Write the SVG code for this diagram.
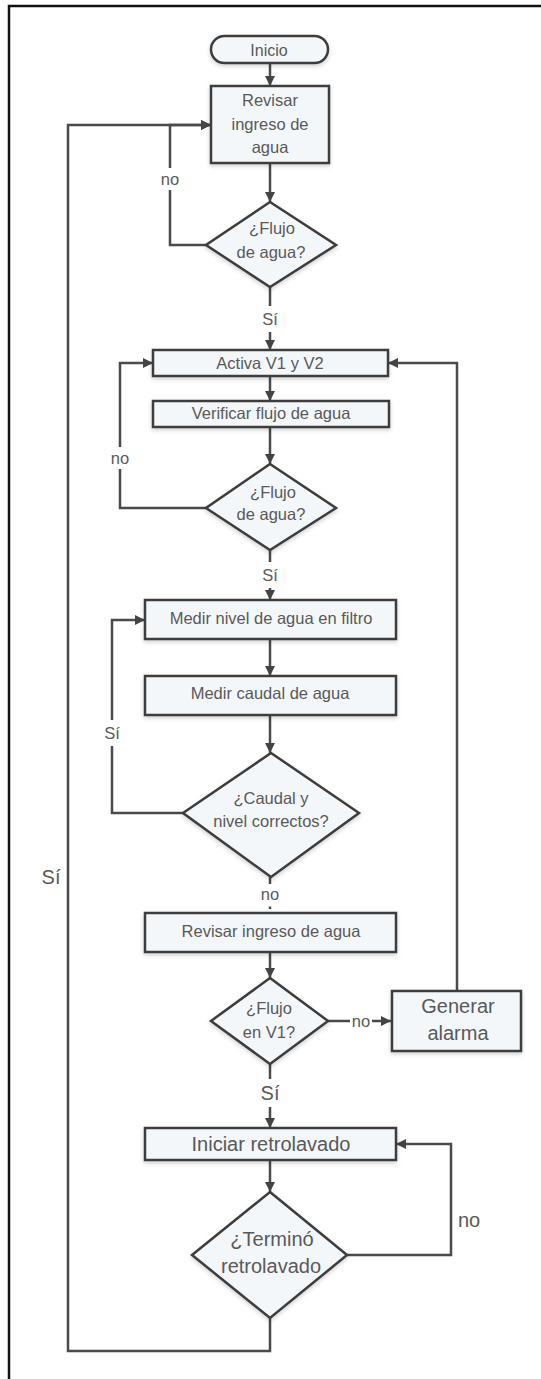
<svg xmlns="http://www.w3.org/2000/svg" width="541" height="1379" viewBox="0 0 541 1379">
  <defs>
    <marker id="arrow" viewBox="0 0 10 10" refX="10" refY="5" markerWidth="10" markerHeight="10" markerUnits="userSpaceOnUse" orient="auto">
      <path d="M0,0 L10,5 L0,10 z" fill="#444"/>
    </marker>
    <filter id="shadow" x="-10%" y="-20%" width="120%" height="150%">
      <feDropShadow dx="0" dy="2" stdDeviation="2" flood-color="#000" flood-opacity="0.18"/>
    </filter>
    <style>
      .shape { fill: #f4f7fa; stroke: #3c3c3c; stroke-width: 2.5; filter: url(#shadow); }
      .conn { fill: none; stroke: #4a4a4a; stroke-width: 2.5; }
      .txt { font-family: "Liberation Sans", Arial, sans-serif; fill: #595959; text-anchor: middle; dominant-baseline: central; }
      .s16 { font-size: 16px; }
      .s17 { font-size: 16.5px; }
      .s20 { font-size: 20px; }
      .lblbg { fill: #fff; }
    </style>
  </defs>

  <rect width="541" height="1379" fill="#fff"/>
  <!-- page frame -->
  <path d="M9,1379 V6 H541" fill="none" stroke="#111" stroke-width="2.5"/>

  <g id="connectors">
    <path class="conn" d="M270,63 V86" marker-end="url(#arrow)"/>
    <path class="conn" d="M270,163 V202" marker-end="url(#arrow)"/>
    <path class="conn" d="M206,245 H170 V125 H211" marker-end="url(#arrow)"/>
    <path class="conn" d="M270,1318 V1351 H68 V125 H211" marker-end="url(#arrow)"/>
    <path class="conn" d="M270,287 V350" marker-end="url(#arrow)"/>
    <path class="conn" d="M270,376 V401" marker-end="url(#arrow)"/>
    <path class="conn" d="M270,427 V464" marker-end="url(#arrow)"/>
    <path class="conn" d="M206,508 H120 V363 H153" marker-end="url(#arrow)"/>
    <path class="conn" d="M270,550 V600" marker-end="url(#arrow)"/>
    <path class="conn" d="M270,639 V676" marker-end="url(#arrow)"/>
    <path class="conn" d="M270,715 V753" marker-end="url(#arrow)"/>
    <path class="conn" d="M183,813 H112 V620 H145" marker-end="url(#arrow)"/>
    <path class="conn" d="M270,877 V884"/>
    <path class="conn" d="M270,906.5 V909" stroke-width="2"/>
    <path class="conn" d="M270,952 V978" marker-end="url(#arrow)"/>
    <path class="conn" d="M328,1021 H391" marker-end="url(#arrow)"/>
    <path class="conn" d="M457,991 V363 H388" marker-end="url(#arrow)"/>
    <path class="conn" d="M270,1064 V1128" marker-end="url(#arrow)"/>
    <path class="conn" d="M270,1160 V1192" marker-end="url(#arrow)"/>
    <path class="conn" d="M347,1255 H451 V1144 H396" marker-end="url(#arrow)"/>

    <!-- connector labels -->
    <rect class="lblbg" x="158" y="168" width="24" height="22"/>
    <text class="txt s17" x="170" y="179">no</text>
    <rect class="lblbg" x="260" y="306" width="20" height="26"/>
    <text class="txt s17" x="270" y="319">Sí</text>
    <rect class="lblbg" x="108" y="447" width="24" height="22"/>
    <text class="txt s17" x="120" y="458">no</text>
    <rect class="lblbg" x="260" y="562" width="20" height="26"/>
    <text class="txt s17" x="270" y="575">Sí</text>
    <rect class="lblbg" x="102" y="720" width="20" height="26"/>
    <text class="txt s17" x="112" y="733">Sí</text>
    <text class="txt s17" x="270" y="894">no</text>
    <rect class="lblbg" x="350" y="1011" width="22" height="20"/>
    <text class="txt s17" x="361" y="1021">no</text>
    <rect class="lblbg" x="259" y="1079" width="22" height="28"/>
    <text class="txt s20" x="270" y="1093">Sí</text>
    <text class="txt s20" x="469" y="1220">no</text>
    <text class="txt s20" x="51" y="877">Sí</text>
  </g>

  <g id="inicio">
    <rect class="shape" x="211" y="36" width="117" height="27" rx="13.5"/>
    <text class="txt s16" x="269" y="50">Inicio</text>
  </g>

  <g id="revisar-ingreso-1">
    <rect class="shape" x="211" y="86" width="118" height="77"/>
    <text class="txt s17" x="270" y="100">Revisar</text>
    <text class="txt s17" x="270" y="124">ingreso de</text>
    <text class="txt s17" x="270" y="147">agua</text>
  </g>

  <g id="flujo-agua-1">
    <polygon class="shape" points="270,202 336,245 270,287 206,245"/>
    <text class="txt s17" x="272" y="228">¿Flujo</text>
    <text class="txt s17" x="271" y="252">de agua?</text>
  </g>

  <g id="activa-v1-v2">
    <rect class="shape" x="153" y="350" width="235" height="26"/>
    <text class="txt s17" x="270" y="363">Activa V1 y V2</text>
  </g>

  <g id="verificar-flujo">
    <rect class="shape" x="153" y="401" width="236" height="26"/>
    <text class="txt s17" x="271" y="413">Verificar flujo de agua</text>
  </g>

  <g id="flujo-agua-2">
    <polygon class="shape" points="270,464 336,508 270,550 206,508"/>
    <text class="txt s17" x="273" y="492">¿Flujo</text>
    <text class="txt s17" x="271" y="514">de agua?</text>
  </g>

  <g id="medir-nivel">
    <rect class="shape" x="145" y="600" width="251" height="39"/>
    <text class="txt s17" x="271" y="618">Medir nivel de agua en filtro</text>
  </g>

  <g id="medir-caudal">
    <rect class="shape" x="145" y="676" width="251" height="39"/>
    <text class="txt s17" x="270" y="693">Medir caudal de agua</text>
  </g>

  <g id="caudal-nivel">
    <polygon class="shape" points="271,753 359,813 271,877 183,813"/>
    <text class="txt s17" x="271" y="798">¿Caudal y</text>
    <text class="txt s17" x="271" y="821">nivel correctos?</text>
  </g>

  <g id="revisar-ingreso-2">
    <rect class="shape" x="145" y="913" width="251" height="39"/>
    <text class="txt s17" x="271" y="931">Revisar ingreso de agua</text>
  </g>

  <g id="flujo-v1">
    <polygon class="shape" points="270,978 328,1021 270,1064 211,1021"/>
    <text class="txt s17" x="269" y="1008">¿Flujo</text>
    <text class="txt s17" x="269" y="1032">en V1?</text>
  </g>

  <g id="generar-alarma">
    <rect class="shape" x="392" y="991" width="129" height="60"/>
    <text class="txt s20" x="458" y="1006">Generar</text>
    <text class="txt s20" x="458" y="1033">alarma</text>
  </g>

  <g id="iniciar-retrolavado">
    <rect class="shape" x="145" y="1128" width="251" height="32"/>
    <text class="txt s20" x="271" y="1144">Iniciar retrolavado</text>
  </g>

  <g id="termino-retrolavado">
    <polygon class="shape" points="270,1192 347,1255 270,1318 192,1255"/>
    <text class="txt s20" x="272" y="1239">¿Terminó</text>
    <text class="txt s20" x="271" y="1266">retrolavado</text>
  </g>
</svg>
